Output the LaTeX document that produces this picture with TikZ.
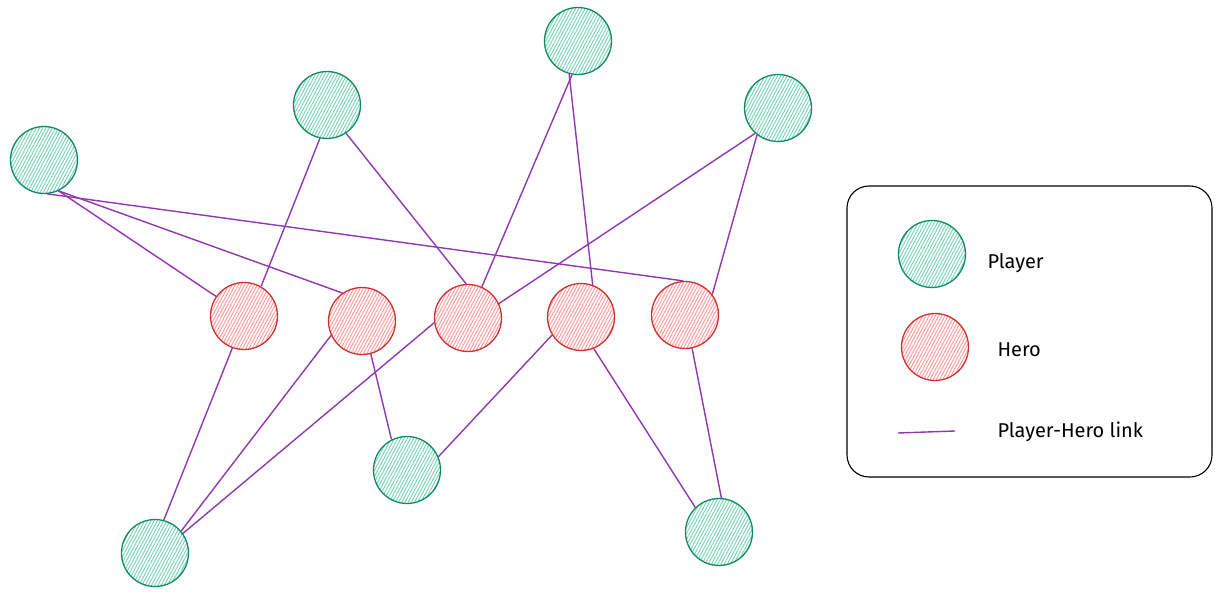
\documentclass[tikz,border=0pt]{standalone}
\usepackage{fontspec}
\setmainfont{Fira Sans}
\usepackage{xcolor}
\usetikzlibrary{patterns.meta}
\definecolor{plgreen}{HTML}{0F8A63}
\definecolor{plfill}{HTML}{74D2B2}
\definecolor{hered}{HTML}{D03030}
\definecolor{hefill}{HTML}{FF9595}
\definecolor{lkpurple}{HTML}{9138B0}

\begin{document}
\begin{tikzpicture}[
  x=1pt, y=-1pt,
  player/.style={circle, draw=plgreen, line width=1.3pt, minimum size=67pt, inner sep=0pt,
    pattern={Lines[angle=62, distance=2.8pt, line width=0.9pt]}, pattern color=plfill},
  hero/.style={player, draw=hered, pattern color=hefill},
  link/.style={draw=lkpurple, line width=1.4pt},
  legendbox/.style={draw, rounded corners=22pt, line width=1.1pt, minimum width=365pt, minimum height=291pt},
  lbl/.style={font=\fontsize{20}{24}\selectfont, anchor=west}
]
\useasboundingbox (0,0) rectangle (1223,596);
\node[player] (p1) at (44,160) {};
\node[player] (p2) at (327,105) {};
\node[player] (p3) at (578,41) {};
\node[player] (p4) at (778,108) {};
\node[player] (p5) at (155,553) {};
\node[player] (p6) at (407,470) {};
\node[player] (p7) at (719,532) {};
\node[hero] (h1) at (244,316) {};
\node[hero] (h2) at (362,321) {};
\node[hero] (h3) at (468,318) {};
\node[hero] (h4) at (581,317) {};
\node[hero] (h5) at (685,315) {};
\draw[link] (p1.-65) -- (h1.145); \draw[link] (p1.-65) -- (h2.125); \draw[link] (p1.-85) -- (h5.93);
\draw[link] (p2.-102) -- (h1.60); \draw[link] (p2.-56) -- (h3.93);
\draw[link] (p3.-100) -- (h3.66); \draw[link] (p3.-105) -- (h4.70);
\draw[link] (p4.-132) -- (h3.25); \draw[link] (p4.-128) -- (h5.37);
\draw[link] (h1.-110) -- (p5.75); \draw[link] (h2.205) -- (p5.40); \draw[link] (h3.188) -- (p5.35);
\draw[link] (h2.-75) -- (p6.117); \draw[link] (h4.212) -- (p6.23);
\draw[link] (h4.-68) -- (p7.134); \draw[link] (h5.-78) -- (p7.86);
\node[legendbox] (legend) at (1029.5,331.5) {};
\node[player] (lgplayer) at (932,254) {};
\node[hero] (lghero) at (935,347) {};
\coordinate (lglinea) at (898,433);
\coordinate (lglineb) at (955,431);
\draw[link] (lglinea) -- (lglineb);
\node[lbl] (tplayer) at (984,263) {Player};
\node[lbl] (thero) at (994,350) {Hero};
\node[lbl] (tlink) at (994,432) {Player-Hero link};
\end{tikzpicture}
\end{document}
